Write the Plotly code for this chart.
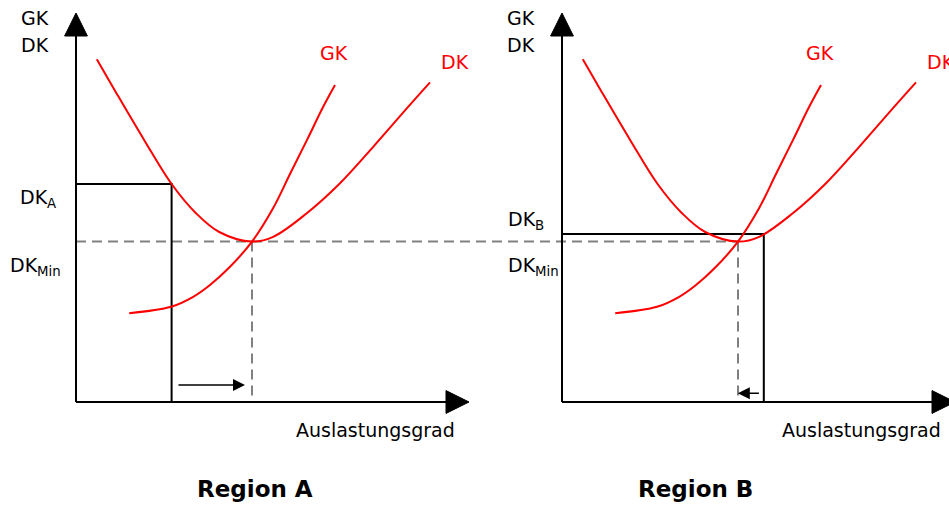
import plotly.graph_objects as go

# ---- schematic data (x: Auslastungsgrad, y: Kosten; arbitrary units) ----
dk_x = [5.2, 10, 17.1, 23.9, 30, 35.8, 44, 49.3, 57.7, 66, 74.3, 82.7, 88.5]
dk_y = [85.7, 77.4, 65.4, 54.5, 47.2, 42.5, 40.1, 41.3, 47.2, 54.7, 63.8, 73.4, 79.9]
gk_x = [13.3, 23.75, 29.3, 33.5, 38.5, 44, 49.3, 53.5, 57.7, 61.8, 64.75]
gk_y = [22.2, 23.8, 26.3, 29.25, 33.8, 40.1, 48.5, 57.0, 65.4, 73.8, 79.25]

dk_min_x = 44.0
dk_min_y = 40.1

panels = ["A", "B"]
panel_offset = [0.0, 121.5]
dk_level_x = [23.9, 50.45]      # operating point per region
dk_level_y = [54.5, 42.0]
shift_from = [25.25, 49.6]      # arrow start (x)
shift_to = [42.25, 43.95]       # arrow end (x)
shift_y = [4.25, 2.2]
region_label_x = [44.75, 33.25]

# styling
RED = "#ff0000"
BLACK = "#000000"
GREY = "#808080"
FONT = "DejaVu Sans"
FS = 19
AX_X_END = 98.25
AX_Y_END = 97.25
HEAD_LEN = 5.75
HEAD_HW = 2.85

fig = go.Figure()

def line(x, y, color, width, dash=None, shape="linear"):
    fig.add_trace(go.Scatter(x=x, y=y, mode="lines",
                             line=dict(color=color, width=width, dash=dash, shape=shape),
                             hoverinfo="skip", showlegend=False))

def poly(x, y, color):
    fig.add_trace(go.Scatter(x=x, y=y, mode="lines", fill="toself",
                             fillcolor=color, line=dict(color=color, width=1),
                             hoverinfo="skip", showlegend=False))

# dashed DK_min guide spanning both regions
xB = panel_offset[1]
line([0, xB + dk_min_x], [dk_min_y, dk_min_y], GREY, 2, dash="10px,6px")

annos = []
for i, p in enumerate(panels):
    o = panel_offset[i]
    # vertical dashed line at DK_min
    line([o + dk_min_x, o + dk_min_x], [dk_min_y, 0], GREY, 2, dash="10px,6px")
    # operating-point box
    line([o, o + dk_level_x[i], o + dk_level_x[i]],
         [dk_level_y[i], dk_level_y[i], 0], BLACK, 2)
    # curves
    line([o + v for v in dk_x], dk_y, RED, 2, shape="spline")
    line([o + v for v in gk_x], gk_y, RED, 2, shape="spline")
    # axes
    line([o, o], [0, AX_Y_END - HEAD_LEN + 0.5], BLACK, 2)
    line([o, o + AX_X_END - HEAD_LEN + 0.5], [0, 0], BLACK, 2)
    poly([o - HEAD_HW, o + HEAD_HW, o, o - HEAD_HW],
         [AX_Y_END - HEAD_LEN, AX_Y_END - HEAD_LEN, AX_Y_END, AX_Y_END - HEAD_LEN], BLACK)
    poly([o + AX_X_END - HEAD_LEN, o + AX_X_END - HEAD_LEN, o + AX_X_END, o + AX_X_END - HEAD_LEN],
         [-HEAD_HW, HEAD_HW, 0, -HEAD_HW], BLACK)
    # shift arrow
    annos.append(dict(x=o + shift_to[i], y=shift_y[i], ax=o + shift_from[i], ay=shift_y[i],
                      xref="x", yref="y", axref="x", ayref="y", text="",
                      showarrow=True, arrowhead=2, arrowsize=1.6, arrowwidth=1.5,
                      arrowcolor=BLACK))
    # texts
    tf = dict(family=FONT, size=FS, color=BLACK)
    annos.append(dict(x=o - 14.25, y=96, text="GK", xanchor="left", font=tf))
    annos.append(dict(x=o - 14.25, y=89.25, text="DK", xanchor="left", font=tf))
    annos.append(dict(x=o + 64.5, y=87.25, text="GK", font=dict(family=FONT, size=FS, color=RED)))
    annos.append(dict(x=o + 94.75, y=85, text="DK", font=dict(family=FONT, size=FS, color=RED)))
    annos.append(dict(x=o + 74.9, y=-7, text="Auslastungsgrad", font=tf))
    annos.append(dict(x=o + region_label_x[i], y=-21.75, text="<b>Region " + p + "</b>",
                      font=dict(family=FONT, size=23, color=BLACK)))
    if i == 0:
        annos.append(dict(x=-9.5, y=51, text="DK<sub>A</sub>", font=tf))
        annos.append(dict(x=-10.25, y=34, text="DK<sub>Min</sub>", font=tf))
    else:
        annos.append(dict(x=o - 14.1, y=45.5, text="DK<sub>B</sub>", xanchor="left", font=tf))
        annos.append(dict(x=o - 14.1, y=34, text="DK<sub>Min</sub>", xanchor="left", font=tf))

for a in annos:
    a.setdefault("showarrow", False)
    a.setdefault("xref", "x")
    a.setdefault("yref", "y")

fig.update_layout(
    width=949, height=505,
    margin=dict(l=0, r=0, t=0, b=0),
    paper_bgcolor="white", plot_bgcolor="white",
    xaxis=dict(range=[-19, 218.25], visible=False, fixedrange=True),
    yaxis=dict(range=[-25.75, 100.5], visible=False, fixedrange=True),
    annotations=annos,
    showlegend=False,
)

fig.write_html("out.html",
               config={"displayModeBar": False},
               post_script="document.body.style.margin='0';document.body.style.overflow='hidden';")
